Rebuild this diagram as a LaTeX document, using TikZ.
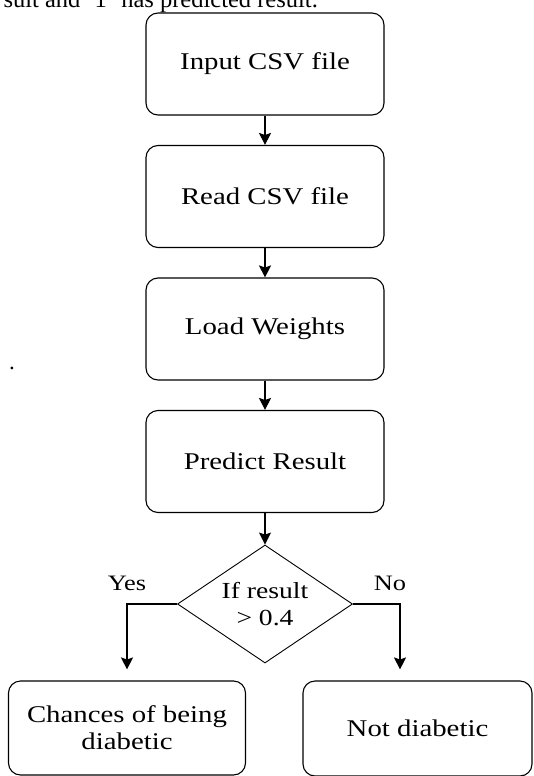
\documentclass[tikz,border=0pt]{standalone}
\usepackage{fontspec}
\setmainfont{Liberation Serif}
\newfontfamily\boxfont{Liberation Serif}[FakeStretch=1.2]
\usetikzlibrary{shapes,arrows.meta}

\begin{document}
\begin{tikzpicture}[x=1pt,y=-1pt,
box/.style={draw,rounded corners=12pt,line width=1.1pt,minimum width=238pt,minimum height=102pt,align=center,font=\boxfont\fontsize{24}{27}\selectfont},
cond/.style={diamond,draw,line width=0.9pt,shape aspect=1.5,minimum width=175pt,minimum height=118pt,inner sep=0pt,align=center,font=\boxfont\fontsize{23}{27}\selectfont},
lbl/.style={font=\boxfont\fontsize{22}{26}\selectfont},
arr/.style={line width=1.1pt,-{Stealth[length=12pt,width=12pt,inset=2pt]}}]
\useasboundingbox (0,0) rectangle (534,776);

\node[anchor=base west,font=\fontsize{24.5}{28}\selectfont] at (0,8) (t) {sult and ‘1’ has predicted result.};
\node[box] at (265,64)	(0) {Input CSV file};
\node[box] at (265,196.5)	(1) {Read CSV file};
\node[box] at (265,329)	(2) {Load Weights};
\node[box] at (265,461.5)	(3) {Predict Result};
\node[cond] at (265,604)	(4) {If result\\> 0.4};
\node[box,minimum width=237pt,minimum height=94pt] at (127,728)	(5) {Chances of being\\diabetic};
\node[box,minimum width=229pt,minimum height=95pt] at (417.5,728.5)	(6) {Not diabetic};
\node[lbl] at (127,583)	(7) {Yes};
\node[lbl] at (390,583)	(8) {No};
\node[anchor=base,font=\fontsize{23}{27}\selectfont] at (12,369)	(9) {.};

\draw[arr] (0) -- (1);
\draw[arr] (1) -- (2);
\draw[arr] (2) -- (3);
\draw[arr] (3) -- (4);
\draw[arr,shorten >=11pt] (4.west) -| (5.north);
\draw[arr,shorten >=11pt] (4.east) -| ([xshift=-17.5pt]6.north);
\end{tikzpicture}
\end{document}
